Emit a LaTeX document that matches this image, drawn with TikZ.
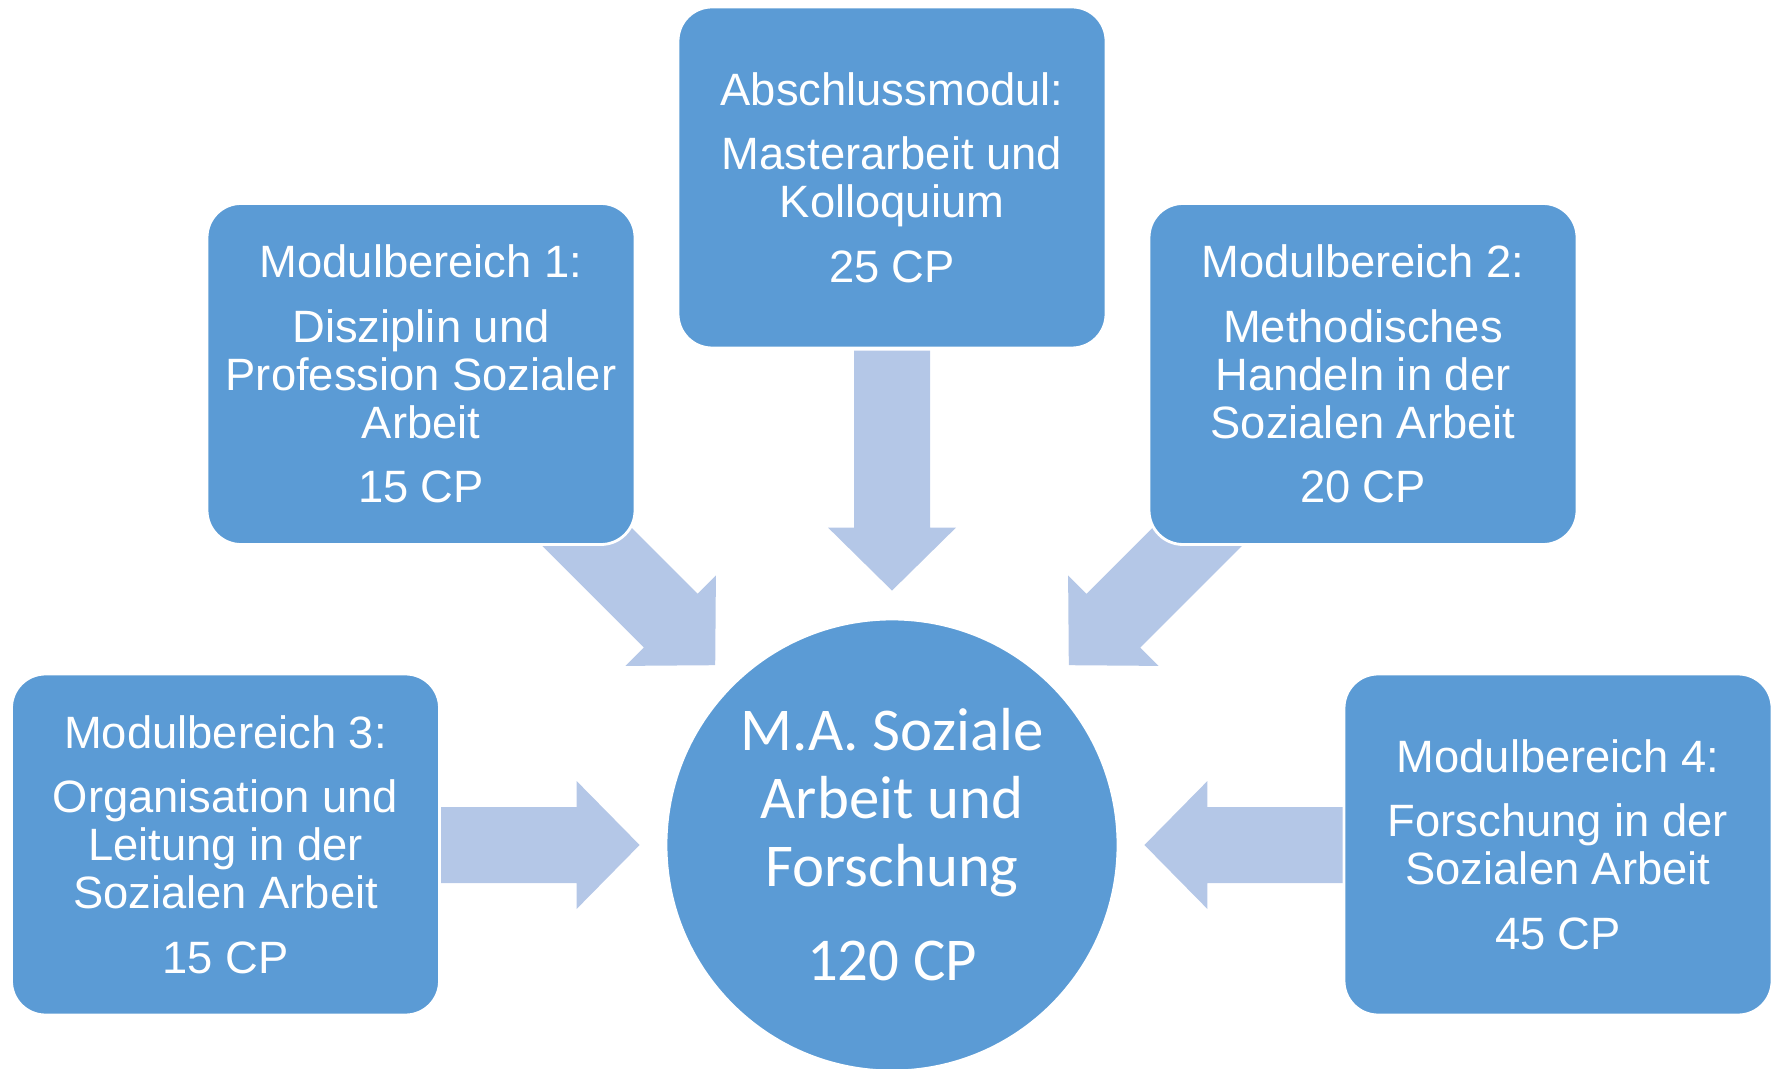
\documentclass[tikz,border=0pt]{standalone}
\usepackage{fontspec}
\setmainfont{Liberation Sans}
\newfontfamily\circfont{Carlito}
\usetikzlibrary{calc,backgrounds}
\definecolor{boxblue}{RGB}{91,155,213}
\definecolor{arrowblue}{RGB}{180,199,231}
\newcommand{\blockarrow}[3]{\fill[arrowblue,shift={(#1)},rotate=#2] (0,0) -- (-0.63,0.64) -- (-0.63,0.38) -- (-#3,0.38) -- (-#3,-0.38) -- (-0.63,-0.38) -- (-0.63,-0.64) -- cycle;}

\begin{document}
\begin{tikzpicture}[
  modul/.style={rectangle, rounded corners=0.34cm, fill=boxblue, draw=white, line width=0.8pt,
    minimum width=4.28cm, minimum height=3.41cm, text=white, align=center,
    font=\fontsize{12.9}{13.6}\selectfont},
  degree/.style={circle, fill=boxblue, draw=white, line width=0.8pt, minimum size=4.52cm,
    text=white, align=center, font=\circfont\fontsize{17.3}{19.3}\selectfont}]
\useasboundingbox (0,0) rectangle (17.79,10.68);
\node[degree] (ma) at (8.92,2.23) {M.A. Soziale\\Arbeit und\\Forschung\\[7.5pt]120 CP};
\node[modul] (am) at (8.92,8.905) {Abschlussmodul:\\[4.8pt]Masterarbeit und\\Kolloquium\\[4.8pt]25 CP};
\node[modul] (mb1) at (4.21,6.94) {Modulbereich 1:\\[4.8pt]Disziplin und\\Profession Sozialer\\Arbeit\\[4.8pt]15 CP};
\node[modul] (mb2) at (13.63,6.94) {Modulbereich 2:\\[4.8pt]Methodisches\\Handeln in der\\Sozialen Arbeit\\[4.8pt]20 CP};
\node[modul] (mb3) at (2.255,2.235) {Modulbereich 3:\\[4.8pt]Organisation und\\Leitung in der\\Sozialen Arbeit\\[4.8pt]15 CP};
\node[modul] (mb4) at (15.58,2.235) {Modulbereich 4:\\[4.8pt]Forschung in der\\Sozialen Arbeit\\[4.8pt]45 CP};
\begin{pgfonlayer}{background}
\coordinate (tipam) at ($(ma.north)+(0,0.27)$);
\coordinate (tip1) at ($(ma.north west)+(-0.16,0.19)$);
\coordinate (tip2) at ($(ma.north east)+(0.16,0.19)$);
\coordinate (tip3) at ($(ma.west)+(-0.25,0)$);
\coordinate (tip4) at ($(ma.east)+(0.25,0)$);
\blockarrow{tipam}{-90}{2.40}
\blockarrow{tip1}{-45}{2.40}
\blockarrow{tip2}{-135}{2.40}
\blockarrow{tip3}{0}{1.99}
\blockarrow{tip4}{180}{1.99}
\end{pgfonlayer}
\end{tikzpicture}
\end{document}
